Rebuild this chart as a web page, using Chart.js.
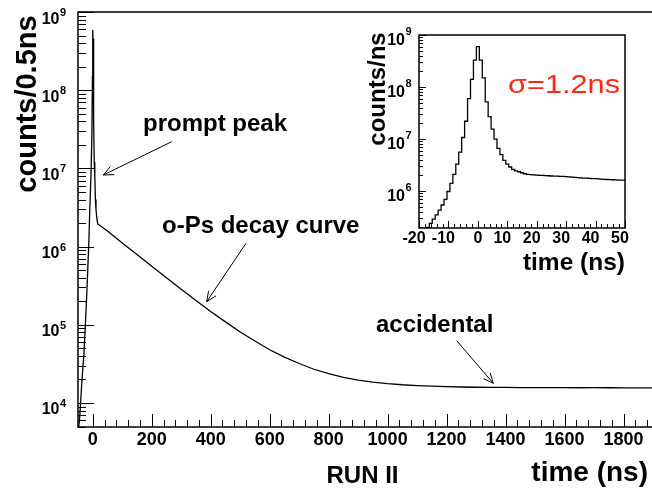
<!DOCTYPE html>
<html lang="en">
<head>
<meta charset="UTF-8">
<title>o-Ps time spectrum, RUN II</title>
<style>
  html, body { margin: 0; padding: 0; background: #fff; overflow: hidden; }
  #wrap { position: relative; width: 652px; height: 493px; overflow: hidden; }
  #wrap canvas { position: absolute; left: 0; top: 0; }
</style>
</head>
<body>
<div id="wrap">
  <canvas id="main" width="660" height="493"></canvas>
  <canvas id="inset" width="652" height="493"></canvas>
</div>
<script src="https://cdn.jsdelivr.net/npm/chart.js@4.4.0/dist/chart.umd.min.js"></script>
<script>
// main spectrum (counts per 0.5 ns)
const mainTime = [-50, -45, -42, -36, -30, -25, -20, -17, -13, -10, -6, -3, -1, 0, 1, 2, 3, 4, 5, 7, 9, 11, 14, 17,
  50, 100, 150, 200, 250, 300, 350, 400, 450, 500, 550, 600, 650, 700, 750, 800, 850, 900, 950,
  1000, 1050, 1100, 1150, 1200, 1250, 1300, 1350, 1400, 1450, 1500, 1550, 1600, 1650, 1700, 1750, 1800, 1850, 1900];
const mainCounts = [4000, 6000, 9000, 21000, 42000, 100000, 260000, 500000, 1200000, 3000000, 8000000, 26000000, 150000000,
  590000000, 450000000, 280000000, 250000000, 40000000, 12000000, 8000000, 4000000, 3000000, 2300000, 1950000,
  1580000, 1110000, 790000, 560000, 400000, 285000, 205000, 148000, 109000, 81000, 62000, 48000, 38500, 32000, 27000,
  23700, 21300, 19600, 18500, 17700, 17100, 16700, 16400, 16200, 16000, 15900, 15800, 15800, 15700, 15750, 15700,
  15700, 15650, 15700, 15650, 15600, 15600, 15600];
const mainXTicks = [0, 200, 400, 600, 800, 1000, 1200, 1400, 1600, 1800];
const mainYTicks = [1e4, 1e5, 1e6, 1e7, 1e8, 1e9];

// inset: prompt peak, counts per ns in 1 ns bins
const insetTime = [-20, -19, -18, -17, -16, -15, -14, -13, -12, -11, -10, -9, -8, -7, -6, -5, -4, -3, -2, -1,
  0, 1, 2, 3, 4, 5, 6, 7, 8, 9, 10, 11, 12, 13, 14, 15, 16, 17, 18, 19, 20, 21, 22, 23, 24, 25, 26, 27, 28, 29,
  30, 31, 32, 33, 34, 35, 36, 37, 38, 39, 40, 41, 42, 43, 44, 45, 46, 47, 48, 49, 50];
const insetCounts = [1.0e5, 1.3e5, 1.65e5, 2.0e5, 2.4e5, 2.9e5, 3.5e5, 4.3e5, 5.4e5, 6.9e5, 9.8e5, 1.4e6, 2.1e6,
  3.3e6, 5.6e6, 1.07e7, 2.2e7, 6.0e7, 1.4e8, 3.3e8,
  6.0e8, 3.3e8, 1.5e8, 5.2e7, 2.7e7, 1.55e7, 1.0e7, 6.6e6, 5.0e6, 3.9e6, 3.3e6, 2.9e6, 2.6e6, 2.45e6, 2.35e6,
  2.25e6, 2.15e6, 2.1e6, 2.07e6, 2.05e6, 2.02e6, 2.0e6, 2.0e6, 1.98e6, 1.97e6, 1.95e6, 1.94e6, 1.93e6, 1.92e6,
  1.91e6, 1.9e6, 1.88e6, 1.86e6, 1.84e6, 1.82e6, 1.8e6, 1.78e6, 1.77e6, 1.76e6, 1.74e6, 1.73e6, 1.71e6, 1.7e6,
  1.68e6, 1.67e6, 1.66e6, 1.65e6, 1.64e6, 1.63e6, 1.63e6, 1.62e6];
const insetXTicks = [-20, -10, 0, 10, 20, 30, 40, 50];
const insetYTicks = [1e6, 1e7, 1e8, 1e9];

const FONT = '"Liberation Sans", Arial, sans-serif';

function logMinor(min, max) {
  const out = [];
  for (let e = Math.floor(Math.log10(min)); e <= Math.ceil(Math.log10(max)); e++) {
    for (let k = 2; k <= 9; k++) {
      const v = k * Math.pow(10, e);
      if (v >= min && v <= max) out.push(v);
    }
  }
  return out;
}

function linMinor(step, from, to) {
  const out = [];
  for (let v = from; v <= to + 1e-9; v += step) out.push(v);
  return out;
}

function points(xs, ys) {
  return xs.map((x, i) => ({ x: x, y: ys[i] }));
}

// ROOT-like frame: ticks pointing inward, 10^n labels
function rootAxes(cfg) {
  return {
    id: 'rootAxes',
    afterDraw(chart) {
      const ctx = chart.ctx, a = chart.chartArea;
      const xs = chart.scales.x, ys = chart.scales.y;
      ctx.save();
      ctx.strokeStyle = '#000';
      ctx.lineWidth = 1;
      ctx.beginPath();
      const xt = (v, len) => {
        const p = Math.round(xs.getPixelForValue(v)) + 0.5;
        ctx.moveTo(p, a.bottom); ctx.lineTo(p, a.bottom - len);
      };
      const yt = (v, len) => {
        const p = Math.round(ys.getPixelForValue(v)) + 0.5;
        ctx.moveTo(a.left, p); ctx.lineTo(a.left + len, p);
      };
      cfg.xTicks.forEach(v => xt(v, cfg.xMajorLen));
      cfg.xMinor.forEach(v => xt(v, cfg.xMinorLen));
      cfg.yTicks.forEach(v => yt(v, cfg.yMajorLen));
      cfg.yMinor.forEach(v => yt(v, cfg.yMinorLen));
      ctx.stroke();

      ctx.lineWidth = 1.5;
      ctx.strokeRect(a.left, a.top, a.right - a.left, a.bottom - a.top);

      ctx.fillStyle = '#000';
      ctx.textBaseline = 'alphabetic';
      ctx.font = 'bold ' + cfg.xFont + 'px ' + FONT;
      ctx.textAlign = 'center';
      cfg.xTicks.forEach(v => {
        ctx.fillText(String(v), xs.getPixelForValue(v) + (v !== 0 ? cfg.xShift : 0), cfg.xLabelY);
      });

      cfg.yTicks.forEach(v => {
        const p = ys.getPixelForValue(v);
        ctx.font = 'bold ' + cfg.yFont + 'px ' + FONT;
        ctx.textAlign = 'right';
        ctx.fillText('10', cfg.yLabelX, p + cfg.yBase);
        ctx.font = 'bold ' + cfg.supFont + 'px ' + FONT;
        ctx.textAlign = 'left';
        ctx.fillText(String(Math.round(Math.log10(v))), cfg.yLabelX + 0.5, p + cfg.ySup);
      });
      ctx.restore();
    }
  };
}

function vText(ctx, text, x, y, size) {
  ctx.save();
  ctx.translate(x, y);
  ctx.rotate(-Math.PI / 2);
  ctx.font = 'bold ' + size + 'px ' + FONT;
  ctx.textAlign = 'center';
  ctx.fillText(text, 0, 0);
  ctx.restore();
}

function arrow(ctx, x1, y1, x2, y2) {
  const ang = Math.atan2(y2 - y1, x2 - x1), len = 11, spread = 0.42;
  ctx.beginPath();
  ctx.moveTo(x1, y1); ctx.lineTo(x2, y2);
  ctx.moveTo(x2 - len * Math.cos(ang - spread), y2 - len * Math.sin(ang - spread));
  ctx.lineTo(x2, y2);
  ctx.lineTo(x2 - len * Math.cos(ang + spread), y2 - len * Math.sin(ang + spread));
  ctx.stroke();
}

const mainText = {
  id: 'mainText',
  afterDraw(chart) {
    const ctx = chart.ctx;
    ctx.save();
    ctx.fillStyle = '#000';
    ctx.strokeStyle = '#000';
    ctx.lineWidth = 1;
    ctx.textBaseline = 'alphabetic';
    vText(ctx, 'counts/0.5ns', 36, 104, 29);
    ctx.font = 'bold 28px ' + FONT;
    ctx.textAlign = 'right';
    ctx.fillText('time (ns)', 648, 481);
    ctx.font = 'bold 24px ' + FONT;
    ctx.textAlign = 'center';
    ctx.fillText('RUN II', 362.5, 483);
    ctx.textAlign = 'left';
    ctx.fillText('prompt peak', 143, 131);
    ctx.fillText('o-Ps decay curve', 162, 233);
    ctx.fillText('accidental', 376, 332);
    arrow(ctx, 171.7, 141.7, 103.3, 175);
    arrow(ctx, 246, 243.3, 206.7, 301.7);
    arrow(ctx, 456.7, 340.7, 493.3, 383.3);
    ctx.restore();
  }
};

const insetText = {
  id: 'insetText',
  afterDraw(chart) {
    const ctx = chart.ctx;
    ctx.save();
    ctx.fillStyle = '#000';
    ctx.textBaseline = 'alphabetic';
    vText(ctx, 'counts/ns', 385, 89, 24);
    ctx.font = 'bold 24.5px ' + FONT;
    ctx.textAlign = 'right';
    ctx.fillText('time (ns)', 625, 270);
    // sigma label, stretched to the width seen in the figure
    ctx.font = '25px ' + FONT;
    ctx.textAlign = 'left';
    ctx.fillStyle = '#ff2a12';
    const label = 'σ=1.2ns';
    const w = ctx.measureText(label).width;
    ctx.translate(508, 93);
    ctx.scale(112 / w, 1);
    ctx.fillText(label, 0, 0);
    ctx.restore();
  }
};

new Chart(document.getElementById('main'), {
  type: 'line',
  data: {
    datasets: [{
      data: points(mainTime, mainCounts),
      borderColor: '#000',
      borderWidth: 1.3,
      pointRadius: 0,
      tension: 0,
      fill: false
    }]
  },
  options: {
    responsive: false,
    animation: false,
    layout: { padding: { left: 78, top: 12, right: 7, bottom: 66 } },
    plugins: { legend: { display: false }, tooltip: { enabled: false } },
    scales: {
      x: { type: 'linear', display: false, min: -50, max: 1900 },
      y: { type: 'logarithmic', display: false, min: 4930, max: 1e9 }
    }
  },
  plugins: [rootAxes({
    xTicks: mainXTicks, xMinor: linMinor(40, 40, 1880).filter(v => v % 200 !== 0),
    yTicks: mainYTicks, yMinor: logMinor(4930, 1e9),
    xMajorLen: 13, xMinorLen: 7, yMajorLen: 16, yMinorLen: 8,
    xFont: 18, xLabelY: 445, xShift: 0,
    yFont: 16, supFont: 11, yLabelX: 59.5, yBase: 11.5, ySup: 4
  }), mainText]
});

new Chart(document.getElementById('inset'), {
  type: 'line',
  data: {
    datasets: [{
      data: points(insetTime, insetCounts),
      borderColor: '#000',
      borderWidth: 1.3,
      pointRadius: 0,
      stepped: 'middle',
      fill: false
    }]
  },
  options: {
    responsive: false,
    animation: false,
    layout: { padding: { left: 419, top: 35, right: 27, bottom: 265 } },
    plugins: { legend: { display: false }, tooltip: { enabled: false } },
    scales: {
      x: { type: 'linear', display: false, min: -20, max: 50 },
      y: { type: 'logarithmic', display: false, min: 1.95e5, max: 1e9 }
    }
  },
  plugins: [rootAxes({
    xTicks: insetXTicks, xMinor: linMinor(2, -18, 48).filter(v => v % 10 !== 0),
    yTicks: insetYTicks, yMinor: logMinor(1.95e5, 1e9),
    xMajorLen: 7, xMinorLen: 4, yMajorLen: 7, yMinorLen: 4,
    xFont: 16, xLabelY: 243, xShift: -5,
    yFont: 16, supFont: 11, yLabelX: 405, yBase: 10, ySup: 0
  }), insetText]
});
</script>
</body>
</html>
